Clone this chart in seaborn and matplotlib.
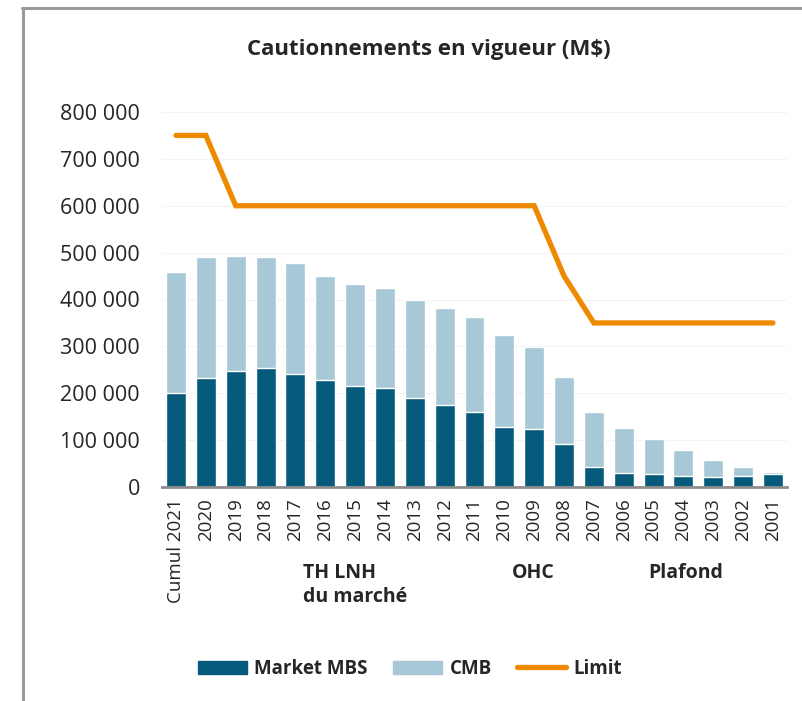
import numpy as np
import pandas as pd
import seaborn as sns
import matplotlib
matplotlib.use("Agg")
import matplotlib.pyplot as plt
from matplotlib.patches import Patch
from matplotlib.lines import Line2D

categories = ["Cumul 2021", "2020", "2019", "2018", "2017", "2016", "2015", "2014",
              "2013", "2012", "2011", "2010", "2009", "2008", "2007", "2006",
              "2005", "2004", "2003", "2002", "2001"]
market_mbs = [200000, 232000, 248000, 254000, 242000, 228000, 215000, 212000,
              189000, 176000, 159000, 129000, 123000, 91000, 43000, 29000,
              27000, 24000, 22000, 24000, 27000]
cmb = [259000, 258000, 244000, 236000, 236000, 223000, 218000, 212000,
       210000, 206000, 204000, 195000, 176000, 143000, 118000, 96000,
       75000, 55000, 36000, 19000, 6000]
limit = [750000, 750000, 600000, 600000, 600000, 600000, 600000, 600000,
         600000, 600000, 600000, 600000, 600000, 450000, 350000, 350000,
         350000, 350000, 350000, 350000, 350000]
yticks = [0, 100000, 200000, 300000, 400000, 500000, 600000, 700000, 800000]

C_DARK = "#065a7b"
C_LIGHT = "#a7c8d6"
C_ORANGE = "#ee8a00"

sns.set_style("white")
plt.rcParams["font.family"] = ["Open Sans", "DejaVu Sans"]

df = pd.DataFrame({"cat": categories, "mbs": market_mbs, "cmb": cmb, "limit": limit})
df["total"] = df["mbs"] + df["cmb"]
df["pos"] = np.arange(len(df))

fig = plt.figure(figsize=(8.03, 7.01), dpi=100)
ax = fig.add_axes([162/803, 1-487/701, (787-162)/803, (487-112)/701])

sns.barplot(data=df, x="cat", y="total", color=C_LIGHT, width=0.67, ax=ax,
            saturation=1, order=categories)
sns.barplot(data=df, x="cat", y="mbs", color=C_DARK, width=0.67, ax=ax,
            saturation=1, order=categories)
sns.lineplot(x=df["pos"], y=df["limit"], color=C_ORANGE, linewidth=3.8, ax=ax,
             sort=False, solid_capstyle="round", solid_joinstyle="miter")

ax.set_xlim(-0.47, len(categories) - 0.53)
ax.set_ylim(0, 800000)
ax.set_yticks(yticks)
ax.set_yticklabels([f"{v:,}".replace(",", " ") if v else "0" for v in yticks],
                   fontsize=15.5)
ax.set_xticks(range(len(categories)))
ax.set_xticklabels(categories, rotation=90, fontsize=13.5)
ax.set_xlabel("")
ax.set_ylabel("")
ax.tick_params(axis="both", length=0)
ax.tick_params(axis="y", pad=16)
ax.tick_params(axis="x", pad=8)
for yv in yticks[1:]:
    ax.axhline(yv, color="#f3f3f3", linewidth=0.8, zorder=0)
for s in ["left", "right", "top"]:
    ax.spines[s].set_visible(False)
ax.spines["bottom"].set_color("#8c8c8c")
ax.spines["bottom"].set_linewidth(2)
ax.spines["bottom"].set_zorder(5)

fig.text(429/803, 1-50/701, "Cautionnements en vigueur (M$)", ha="center", va="center",
         fontsize=16, fontweight="bold")

fig.text(303/803, 1-573/701, "TH LNH", ha="left", va="center", fontsize=14, fontweight="bold")
fig.text(303/803, 1-597/701, "du marché", ha="left", va="center", fontsize=14, fontweight="bold")
fig.text(512/803, 1-573/701, "OHC", ha="left", va="center", fontsize=14, fontweight="bold")
fig.text(648/803, 1-573/701, "Plafond", ha="left", va="center", fontsize=14, fontweight="bold")

handles = [Patch(facecolor=C_DARK, edgecolor=C_DARK),
           Patch(facecolor=C_LIGHT, edgecolor=C_LIGHT),
           Line2D([0], [0], color=C_ORANGE, linewidth=3.8, solid_capstyle="round")]
fig.legend(handles, ["Market MBS", "CMB", "Limit"], loc="center",
           bbox_to_anchor=(410/803, 1-669/701), ncol=3, frameon=False,
           prop={"size": 13.5, "weight": "bold"}, handlelength=2.6,
           handleheight=0.75, handletextpad=0.4, columnspacing=1.35)

fig.add_artist(Line2D([22/803, 1.0], [1-8/701, 1-8/701], transform=fig.transFigure,
                      color="#999999", linewidth=2.2))
fig.add_artist(Line2D([23/803, 23/803], [1-8/701, 0.0], transform=fig.transFigure,
                      color="#999999", linewidth=2.2))

fig.savefig("out.png", dpi=100)
